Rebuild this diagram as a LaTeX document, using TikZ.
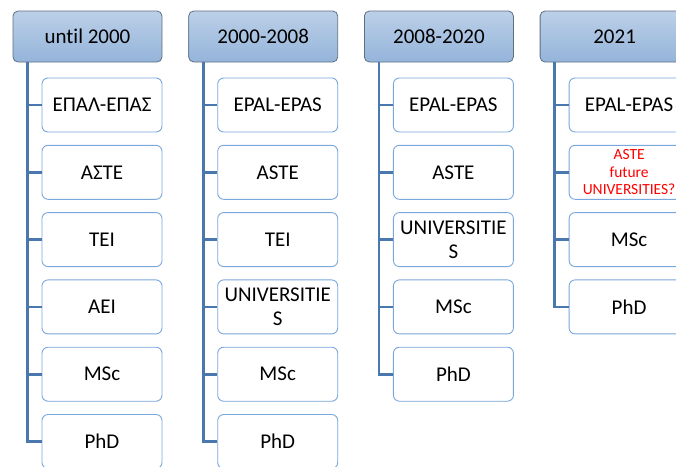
\documentclass[tikz,border=0pt]{standalone}
\usepackage{fontspec}
\setmainfont{Carlito}[Ligatures={NoCommon}]
\definecolor{hdtop}{HTML}{BCD0E8}
\definecolor{hdbot}{HTML}{94B4DA}
\definecolor{hdline}{HTML}{5F6F82}
\definecolor{boxline}{HTML}{7AA7DC}
\definecolor{connc}{HTML}{4A78AE}
\begin{document}
\begin{tikzpicture}[x=1pt,y=-1pt,
 hdr/.style={draw=hdline, line width=0.8pt, rounded corners=5pt, top color=hdtop, bottom color=hdbot, minimum width=149pt, minimum height=51pt, inner sep=0pt, font=\fontsize{21}{24}\selectfont},
 item/.style={draw=boxline, line width=0.9pt, fill=white, rounded corners=6pt, minimum width=120pt, minimum height=54pt, inner sep=0pt, align=center, font=\fontsize{21}{24}\selectfont},
 redtxt/.style={text=red, font=\fontsize{15.5}{17.5}\selectfont},
 conn/.style={draw=connc, line width=2.8pt}]
\path[use as bounding box, clip] (0,0) rectangle (676,466);
% headers
\node[hdr] (h1) at (87.5,36.5) {until 2000};
\node[hdr] (h2) at (263.2,36.5) {2000-2008};
\node[hdr] (h3) at (438.9,36.5) {2008-2020};
\node[hdr] (h4) at (614.6,36.5) {2021};
% column 1
\node[item] (a1) at (102,105) {ΕΠΑΛ-ΕΠΑΣ};
\node[item] (a2) at (102,172.3) {ΑΣΤΕ};
\node[item] (a3) at (102,239.6) {ΤΕΙ};
\node[item] (a4) at (102,306.9) {ΑΕΙ};
\node[item] (a5) at (102,374.2) {MSc};
\node[item] (a6) at (102,441.5) {PhD};
% column 2
\node[item] (b1) at (277.7,105) {EPAL-EPAS};
\node[item] (b2) at (277.7,172.3) {ASTE};
\node[item] (b3) at (277.7,239.6) {TEI};
\node[item] (b4) at (277.7,306.9) {UNIVERSITIE\\S};
\node[item] (b5) at (277.7,374.2) {MSc};
\node[item] (b6) at (277.7,441.5) {PhD};
% column 3
\node[item] (c1) at (453.4,105) {EPAL-EPAS};
\node[item] (c2) at (453.4,172.3) {ASTE};
\node[item] (c3) at (453.4,239.6) {UNIVERSITIE\\S};
\node[item] (c4) at (453.4,306.9) {MSc};
\node[item] (c5) at (453.4,374.2) {PhD};
% column 4
\node[item] (d1) at (629.1,105) {EPAL-EPAS};
\node[item, redtxt] (d2) at (629.1,172.3) {ASTE\\future\\UNIVERSITIES?};
\node[item] (d3) at (629.1,239.6) {MSc};
\node[item] (d4) at (629.1,306.9) {PhD};
% connectors
\foreach \n in {a1,a2,a3,a4,a5,a6}
  \draw[conn] ([xshift=15pt]h1.south west) |- (\n.west);
\foreach \n in {b1,b2,b3,b4,b5,b6}
  \draw[conn] ([xshift=15pt]h2.south west) |- (\n.west);
\foreach \n in {c1,c2,c3,c4,c5}
  \draw[conn] ([xshift=15pt]h3.south west) |- (\n.west);
\foreach \n in {d1,d2,d3,d4}
  \draw[conn] ([xshift=15pt]h4.south west) |- (\n.west);
\end{tikzpicture}
\end{document}
